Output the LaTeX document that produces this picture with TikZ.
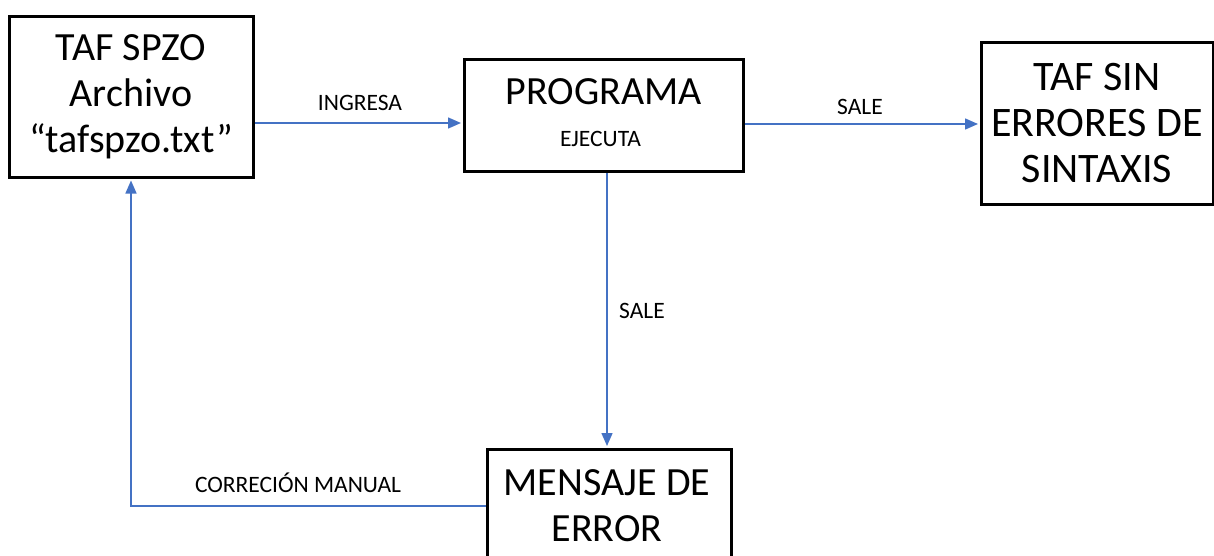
\documentclass[tikz,border=0pt]{standalone}
\usepackage{fontspec}
\setmainfont{Carlito}
\usetikzlibrary{arrows.meta}
\definecolor{flowblue}{RGB}{68,114,196}
\tikzset{
  box/.style={draw=black, line width=3pt, fill=white, align=center, inner sep=0pt},
  bigtext/.style={font=\fontsize{42}{46}\selectfont, align=center},
  midtext/.style={font=\fontsize{40}{46}\selectfont, align=center},
  label/.style={font=\fontsize{23.5}{26}\selectfont, inner sep=0pt},
  flow/.style={draw=flowblue, line width=1.5pt, -{Triangle[length=13pt,width=11pt]}, shorten >=1.5pt}
}
\begin{document}
\begin{tikzpicture}[x=1pt, y=-1pt]
  \useasboundingbox (0,0) rectangle (1214,556);
  \clip (0,0) rectangle (1214,556);

  % boxes
  \node[box, midtext, minimum width=244pt, minimum height=161pt] (file) at (131,97)
    {TAF SPZO\\Archivo\\“tafspzo.txt”};
  \node[box, minimum width=279pt, minimum height=112pt] (prog) at (603.5,116) {};
  \node[font=\fontsize{40}{44}\selectfont, inner sep=0pt] (progtitle) at (603.5,92) {PROGRAMA};
  \node[label] (progsub) at (600.5,139) {EJECUTA};
  \node[box, bigtext, minimum width=232pt, minimum height=161pt] (ok) at (1097,123.5)
    {TAF SIN\\ERRORES DE\\SINTAXIS};
  \node[box, minimum width=244pt, minimum height=141pt] (err) at (609,519.5) {};
  \node[midtext, inner sep=0pt] (errtext) at (607,506) {MENSAJE DE\\ERROR};

  % connectors
  \draw[flow] (file.east |- 0,123) -- (prog.west |- 0,123);
  \draw[flow] (prog.east |- 0,124) -- (ok.west |- 0,124);
  \coordinate (down) at ([xshift=3.5pt]prog.south);
  \draw[flow] (down) -- (down |- err.north);
  \draw[flow] ([yshift=13.5pt]err.west) -| (file.south);

  % connector labels
  \node[label] (lblin) at (360,103) {INGRESA};
  \node[label] (lblout) at (860,107) {SALE};
  \node[label] (lbldown) at (642,311) {SALE};
  \node[label] (lblfix) at (298,483) {CORRECIÓN MANUAL};
\end{tikzpicture}
\end{document}
